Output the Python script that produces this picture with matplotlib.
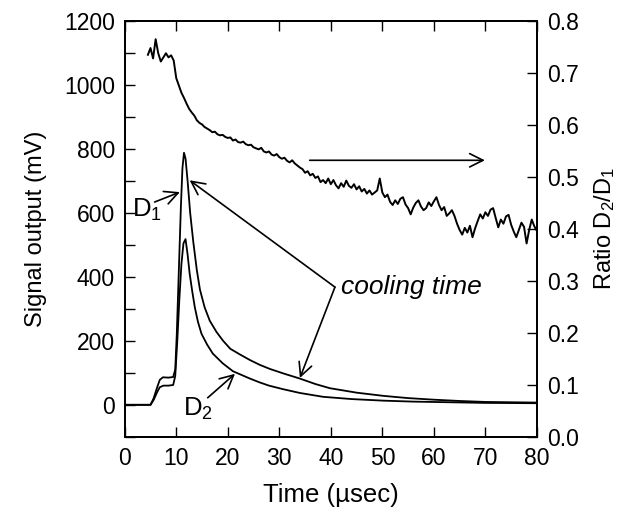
import matplotlib
matplotlib.use("Agg")
import matplotlib.pyplot as plt

plt.rcParams["font.family"] = ["Liberation Sans", "DejaVu Sans"]
plt.rcParams["mathtext.fontset"] = "custom"
plt.rcParams["mathtext.rm"] = "Liberation Sans"
plt.rcParams["mathtext.it"] = "Liberation Sans:italic"

FS = 16.5

# detector signals (mV) vs time (usec)
d1_t = [0, 5.0, 5.6, 6.3, 6.8, 7.4, 8.5, 9.4, 9.8, 10.1, 10.5, 10.9, 11.2, 11.5,
        11.8, 12.2, 12.7, 13.3, 14.0, 14.6, 15.5, 16.5, 17.8, 19.1, 20.5, 22.3,
        24.3, 26.2, 28.2, 31.0, 34.0, 37.0, 39.8, 45.0, 50.2, 55.0, 60.0, 65.0,
        70.0, 75.0, 80.0]
d1_v = [0, 0, 20, 55, 78, 86, 85, 87, 110, 220, 420, 620, 740, 788,
        770, 700, 600, 510, 420, 360, 305, 263, 228, 200, 175, 158,
        140, 125, 112, 97, 82, 65, 52, 38, 28, 21, 16, 12,
        9, 8, 7]

d2_t = [0, 5.0, 5.6, 6.3, 6.8, 7.5, 8.5, 9.4, 9.8, 10.2, 10.6, 11.0, 11.4, 11.8,
        12.2, 12.6, 13.1, 13.6, 14.2, 14.9, 16.0, 17.1, 19.0, 21.0, 24.3, 26.2,
        28.0, 30.7, 34.0, 38.5, 44.0, 50.2, 56.0, 63.0, 70.0, 80.0]
d2_v = [0, 0, 15, 40, 55, 60, 60, 62, 90, 200, 330, 440, 505, 518,
        470, 410, 355, 305, 260, 222, 188, 160, 130, 105, 82, 70,
        60, 49, 37, 25, 18, 13, 10, 8, 6, 5]

# ratio D2/D1, read every 0.5 usec from 4.5 to 80
ratio_t = [4.5 + 0.5 * i for i in range(152)]
ratio_v = [
    0.735, 0.748, 0.728, 0.765, 0.738, 0.722, 0.730, 0.738, 0.730, 0.734,
    0.724, 0.690, 0.676, 0.662, 0.652, 0.641, 0.631, 0.624, 0.618, 0.609,
    0.604, 0.601, 0.596, 0.593, 0.590, 0.586, 0.587, 0.582, 0.580, 0.581,
    0.577, 0.575, 0.576, 0.570, 0.572, 0.567, 0.566, 0.568, 0.563, 0.561,
    0.562, 0.557, 0.555, 0.553, 0.556, 0.549, 0.547, 0.549, 0.543, 0.541,
    0.544, 0.538, 0.535, 0.537, 0.531, 0.528, 0.532, 0.526, 0.522, 0.518,
    0.515, 0.508, 0.511, 0.503, 0.506, 0.498, 0.501, 0.490, 0.494, 0.488,
    0.497, 0.486, 0.494, 0.484, 0.478, 0.488, 0.481, 0.493, 0.483, 0.479,
    0.486, 0.476, 0.482, 0.472, 0.477, 0.468, 0.474, 0.466, 0.470, 0.474,
    0.497, 0.470, 0.461, 0.466, 0.452, 0.446, 0.455, 0.448, 0.458, 0.461,
    0.447, 0.440, 0.428, 0.441, 0.450, 0.455, 0.443, 0.436, 0.440, 0.451,
    0.444, 0.453, 0.461, 0.446, 0.436, 0.442, 0.425, 0.430, 0.436, 0.425,
    0.410, 0.398, 0.389, 0.402, 0.393, 0.406, 0.384, 0.401, 0.415, 0.428,
    0.420, 0.432, 0.425, 0.437, 0.440, 0.421, 0.403, 0.418, 0.410, 0.424,
    0.427, 0.408, 0.395, 0.384, 0.398, 0.412, 0.404, 0.372, 0.398, 0.418,
    0.405, 0.396,
]

fig = plt.figure(figsize=(6.43, 5.25), dpi=100)
ax = fig.add_axes([0.194, 0.168, 0.641, 0.792])
ax2 = ax.twinx()

ax.plot(d1_t, d1_v, color="black", lw=1.3)
ax.plot(d2_t, d2_v, color="black", lw=1.3)
ax2.plot(ratio_t, ratio_v, color="black", lw=1.4)

ax.set_xlim(0, 80)
ax.set_ylim(-100, 1200)
ax2.set_ylim(0, 0.8)
ax.set_xticks(range(0, 81, 10))
ax.set_yticks(range(0, 1201, 200))
ax.set_yticks(range(-100, 1201, 100), minor=True)
ax2.set_yticks([i / 10 for i in range(9)])
ax2.set_yticklabels([f"{i / 10:.1f}" for i in range(9)])

ax.tick_params(direction="in", top=True, right=False, length=7, width=1,
               labelsize=FS, pad=7)
ax.tick_params(which="minor", direction="in", length=7, width=1, right=False)
ax2.tick_params(direction="in", length=7, width=1, labelsize=FS, pad=7)
for a in (ax, ax2):
    for s in a.spines.values():
        s.set_linewidth(1.3)

ax.set_xlabel("Time (\u00b5sec)", fontsize=18.5, labelpad=10)
ax.set_ylabel("Signal output (mV)", fontsize=17, labelpad=12)
ax2.set_ylabel("Ratio D$_2$/D$_1$", fontsize=17, labelpad=10)

arrow = dict(arrowstyle="->", color="black", lw=1.2, mutation_scale=24,
             shrinkA=0, shrinkB=0)

# D1 label
ax.annotate("", xy=(10.7, 665), xytext=(5.8, 634), arrowprops=arrow)
ax.text(1.4, 608, "D$_1$", fontsize=18.5, ha="left", va="center")

# D2 label
ax.annotate("", xy=(21.4, 97), xytext=(16.1, 22), arrowprops=arrow)
ax.text(11.3, -12, "D$_2$", fontsize=18.5, ha="left", va="center")

# cooling time
ax.annotate("", xy=(12.6, 702), xytext=(40.8, 368), arrowprops=arrow)
ax.annotate("", xy=(34.0, 84), xytext=(40.8, 368), arrowprops=arrow)
ax.text(42.0, 368, "cooling time", fontsize=19, style="italic",
        ha="left", va="center")

# ratio axis pointer
ax2.annotate("", xy=(69.9, 0.532), xytext=(35.9, 0.532), arrowprops=arrow)

fig.savefig("out.png", dpi=100)
